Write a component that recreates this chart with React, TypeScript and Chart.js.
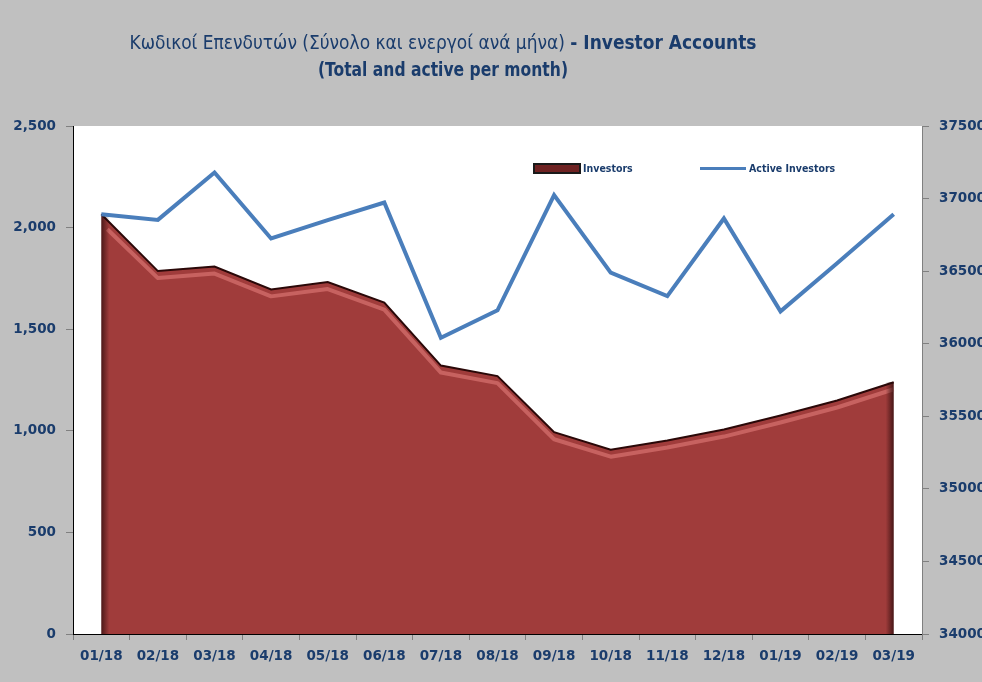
import React, { useEffect, useRef } from "react";
import { Chart, registerables } from "chart.js";

Chart.register(...registerables);

const categories = ["01/18", "02/18", "03/18", "04/18", "05/18", "06/18", "07/18", "08/18", "09/18", "10/18", "11/18", "12/18", "01/19", "02/19", "03/19"];
const investors = [2066, 1786, 1808, 1696, 1732, 1631, 1321, 1269, 993, 907, 952, 1006, 1075, 1149, 1239];
const activeInvestors = [36892, 36853, 37180, 36725, 36851, 36973, 36041, 36230, 37024, 36490, 36328, 36863, 36223, 36554, 36892];
const titleGreek = "Κωδικοί Επενδυτών (Σύνολο και ενεργοί ανά μήνα) ";
const titleEnglish = "- Investor Accounts";
const titleLine2 = "(Total and active per month)";
const legendLabels = ["Investors", "Active Investors"];

const NAVY = "#1a3c6c";
const AREA = "#a03c3b";
const LINE = "#4a7ebb";

const bgPlugin = {
  id: "bg",
  beforeDraw(chart: any) {
    const { ctx, chartArea } = chart;
    ctx.save();
    ctx.fillStyle = "#c0c0c0";
    ctx.fillRect(0, 0, chart.width, chart.height);
    ctx.fillStyle = "#ffffff";
    ctx.fillRect(chartArea.left, chartArea.top, chartArea.right - chartArea.left, chartArea.bottom - chartArea.top);
    ctx.restore();
  },
};

// 3D-like highlight and edges for the area, following the dataset's own points
const areaEffectPlugin = {
  id: "areaEffect",
  afterDatasetDraw(chart: any, args: any) {
    if (args.index !== 1) return;
    const meta = chart.getDatasetMeta(1);
    const pts = meta.data;
    if (!pts || !pts.length) return;
    const { ctx, chartArea } = chart;
    ctx.save();
    ctx.beginPath();
    ctx.rect(chartArea.left, chartArea.top, chartArea.right - chartArea.left, chartArea.bottom - chartArea.top);
    ctx.clip();
    // pink highlight just below the top edge
    ctx.strokeStyle = "rgba(232,130,128,0.55)";
    ctx.lineWidth = 4;
    ctx.lineJoin = "round";
    ctx.beginPath();
    pts.forEach((p: any, i: number) => {
      const y = p.y + 7;
      if (i === 0) ctx.moveTo(p.x + 6, y + 8);
      else ctx.lineTo(p.x, y);
    });
    ctx.stroke();
    // dark vertical edges
    const first = pts[0];
    const last = pts[pts.length - 1];
    const g1 = ctx.createLinearGradient(first.x, 0, first.x + 8, 0);
    g1.addColorStop(0, "rgba(40,10,10,0.7)");
    g1.addColorStop(1, "rgba(40,10,10,0)");
    ctx.fillStyle = g1;
    ctx.fillRect(first.x, first.y, 8, chartArea.bottom - first.y);
    const g2 = ctx.createLinearGradient(last.x - 8, 0, last.x, 0);
    g2.addColorStop(0, "rgba(40,10,10,0)");
    g2.addColorStop(1, "rgba(40,10,10,0.75)");
    ctx.fillStyle = g2;
    ctx.fillRect(last.x - 8, last.y, 8, chartArea.bottom - last.y);
    ctx.restore();
  },
};

const titlePlugin = {
  id: "customTitle",
  afterDraw(chart: any) {
    const { ctx } = chart;
    const fam = '"Liberation Sans Narrow", "DejaVu Sans Condensed", sans-serif';
    const fReg = `19px ${fam}`;
    const fBold = `bold 19px ${fam}`;
    ctx.save();
    ctx.fillStyle = NAVY;
    ctx.textBaseline = "middle";
    ctx.textAlign = "left";
    ctx.font = fReg;
    const w1 = ctx.measureText(titleGreek).width;
    ctx.font = fBold;
    const w2 = ctx.measureText(titleEnglish).width;
    const target = 627;
    const s = target / (w1 + w2);
    const cx = 443;
    ctx.save();
    ctx.translate(cx - target / 2, 44);
    ctx.scale(s, 1);
    ctx.font = fReg;
    ctx.fillText(titleGreek, 0, 0);
    ctx.font = fBold;
    ctx.fillText(titleEnglish, w1, 0);
    ctx.restore();
    ctx.font = fBold;
    const w3 = ctx.measureText(titleLine2).width;
    const target2 = 250;
    const s2 = target2 / w3;
    ctx.save();
    ctx.translate(cx - target2 / 2, 71);
    ctx.scale(s2, 1);
    ctx.fillText(titleLine2, 0, 0);
    ctx.restore();
    ctx.restore();
  },
};

const legendPlugin = {
  id: "customLegend",
  afterDraw(chart: any) {
    const { ctx } = chart;
    ctx.save();
    ctx.font = 'bold 10.5px "Liberation Sans Narrow", "DejaVu Sans Condensed", sans-serif';
    ctx.textBaseline = "middle";
    ctx.textAlign = "left";
    ctx.fillStyle = "#6e2222";
    ctx.fillRect(534, 164, 46, 9);
    ctx.strokeStyle = "#1a1a1a";
    ctx.lineWidth = 2;
    ctx.strokeRect(534, 164, 46, 9);
    ctx.fillStyle = NAVY;
    ctx.fillText(legendLabels[0], 583, 169);
    ctx.strokeStyle = LINE;
    ctx.lineWidth = 3;
    ctx.beginPath();
    ctx.moveTo(700, 168.5);
    ctx.lineTo(746, 168.5);
    ctx.stroke();
    ctx.fillStyle = NAVY;
    ctx.fillText(legendLabels[1], 749, 169);
    ctx.restore();
  },
};

export default function App() {
  const ref = useRef<HTMLCanvasElement | null>(null);
  useEffect(() => {
    document.body.style.margin = "0";
    const canvas = ref.current!;
    const tickFont = { family: '"DejaVu Sans", sans-serif', size: 13.5, weight: "bold" as const };
    const chart = new Chart(canvas, {
      type: "line",
      data: {
        labels: categories,
        datasets: [
          {
            label: legendLabels[1],
            data: activeInvestors,
            yAxisID: "y1",
            borderColor: LINE,
            borderWidth: 4,
            pointRadius: 0,
            tension: 0,
            fill: false,
            order: 0,
          },
          {
            label: legendLabels[0],
            data: investors,
            yAxisID: "y",
            borderColor: "#2a0808",
            borderWidth: 2,
            backgroundColor: AREA,
            pointRadius: 0,
            tension: 0,
            fill: "origin",
            order: 1,
          },
        ],
      },
      options: {
        responsive: false,
        animation: false,
        layout: { padding: { top: 126, left: 0, right: 0, bottom: 0 } },
        plugins: { legend: { display: false }, title: { display: false }, tooltip: { enabled: false } },
        scales: {
          x: {
            offset: true,
            grid: { display: true, drawOnChartArea: false, drawTicks: true, tickLength: 6, color: "#808080", offset: true },
            border: { display: true, color: "#000000", width: 1 },
            ticks: { color: NAVY, font: tickFont, padding: 8, maxRotation: 0, autoSkip: false },
            afterFit: (s: any) => { s.height = 48; },
          },
          y: {
            position: "left",
            min: 0,
            max: 2500,
            grid: { display: true, drawOnChartArea: false, drawTicks: true, tickLength: 7, color: "#808080" },
            border: { display: true, color: "#000000", width: 1 },
            ticks: {
              stepSize: 500,
              color: NAVY,
              font: tickFont,
              padding: 10,
              callback: (v: any) => Number(v).toLocaleString("en-US"),
            },
            afterFit: (s: any) => { s.width = 73; },
          },
          y1: {
            position: "right",
            min: 34000,
            max: 37500,
            grid: { display: true, drawOnChartArea: false, drawTicks: true, tickLength: 7, color: "#808080" },
            border: { display: true, color: "#808080", width: 1 },
            ticks: {
              stepSize: 500,
              color: NAVY,
              font: tickFont,
              padding: 10,
              callback: (v: any) => String(v),
            },
            afterFit: (s: any) => { s.width = 60; },
          },
        },
      },
      plugins: [bgPlugin, areaEffectPlugin, titlePlugin, legendPlugin],
    });
    return () => chart.destroy();
  }, []);
  return <canvas ref={ref} width={982} height={682} style={{ display: "block" }} />;
}
